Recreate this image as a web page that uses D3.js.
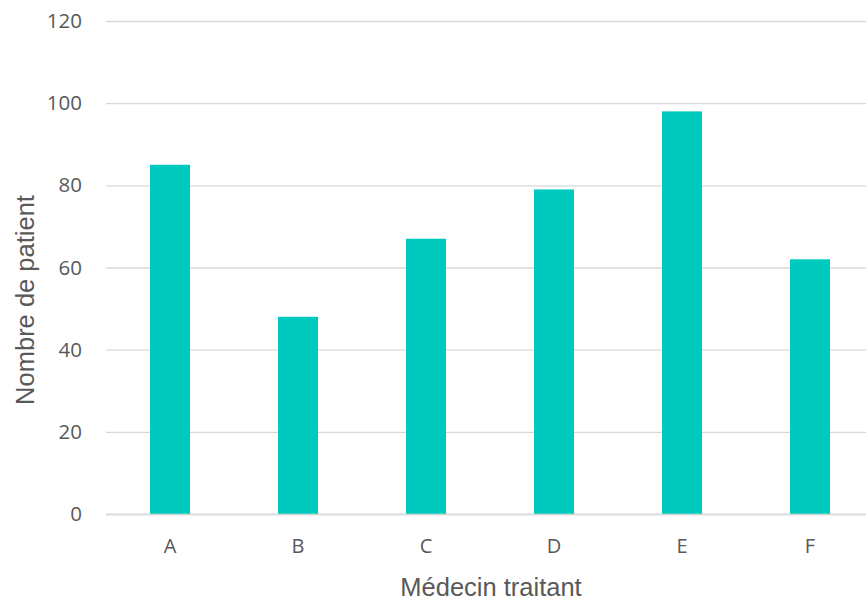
<!DOCTYPE html>
<html>
<head>
<meta charset="utf-8">
<script src="https://cdn.jsdelivr.net/npm/d3@7/dist/d3.min.js"></script>
<style>
  html, body { margin: 0; padding: 0; background: #fff; }
  svg { display: block; }
</style>
</head>
<body>
<svg id="chart" width="866" height="601"></svg>
<script>
// Patients per attending physician
const categories = ["A", "B", "C", "D", "E", "F"];
const patients = [85, 48, 67, 79, 98, 62];
const yTicks = [0, 20, 40, 60, 80, 100, 120];

const svg = d3.select("#chart");
const plotLeft = 106, bandStep = 128;
const plotTop = 21, plotBottom = 514;

const x = d3.scaleBand()
  .domain(categories)
  .range([plotLeft, plotLeft + bandStep * categories.length])
  .paddingInner(0.6875)
  .paddingOuter(0.34375);

const y = d3.scaleLinear().domain([0, 120]).range([plotBottom, plotTop]);

const tickFont = "'Open Sans', sans-serif";
const titleFont = "'Liberation Sans', Arial, sans-serif";

// Horizontal gridlines
const yAxis = d3.axisLeft(y).tickValues(yTicks).tickSize(-(866 - plotLeft)).tickPadding(24);
const gy = svg.append("g").attr("transform", `translate(${plotLeft},0)`).call(yAxis);
gy.select(".domain").remove();
gy.selectAll(".tick line").attr("stroke", "#d9d9d9").attr("stroke-width", 1.3);
gy.selectAll(".tick text")
  .attr("fill", "#595959")
  .style("font-family", tickFont)
  .style("font-size", "20.5px");

// Bars
svg.append("g").selectAll("rect")
  .data(categories.map((c, i) => ({ c, v: patients[i] })))
  .join("rect")
  .attr("x", d => x(d.c))
  .attr("width", x.bandwidth())
  .attr("y", d => y(d.v))
  .attr("height", d => y(0) - y(d.v))
  .attr("fill", "#00c9bd");

// Category axis
const xAxis = d3.axisBottom(x).tickSize(0).tickPadding(25);
const gx = svg.append("g").attr("transform", `translate(0,${plotBottom})`).call(xAxis);
gx.select(".domain").attr("stroke", "#d9d9d9").attr("stroke-width", 1.3)
  .attr("d", `M${plotLeft},0.5H866`);
gx.selectAll(".tick text")
  .attr("fill", "#595959")
  .style("font-family", tickFont)
  .style("font-size", "20px");

// Axis titles
svg.append("text")
  .attr("x", 491).attr("y", 596)
  .attr("text-anchor", "middle")
  .attr("fill", "#595959")
  .style("font-family", titleFont)
  .style("font-size", "25.5px")
  .text("Médecin traitant");

svg.append("text")
  .attr("transform", "translate(34,300) rotate(-90)")
  .attr("text-anchor", "middle")
  .attr("fill", "#595959")
  .style("font-family", titleFont)
  .style("font-size", "25.5px")
  .text("Nombre de patient");
</script>
</body>
</html>
